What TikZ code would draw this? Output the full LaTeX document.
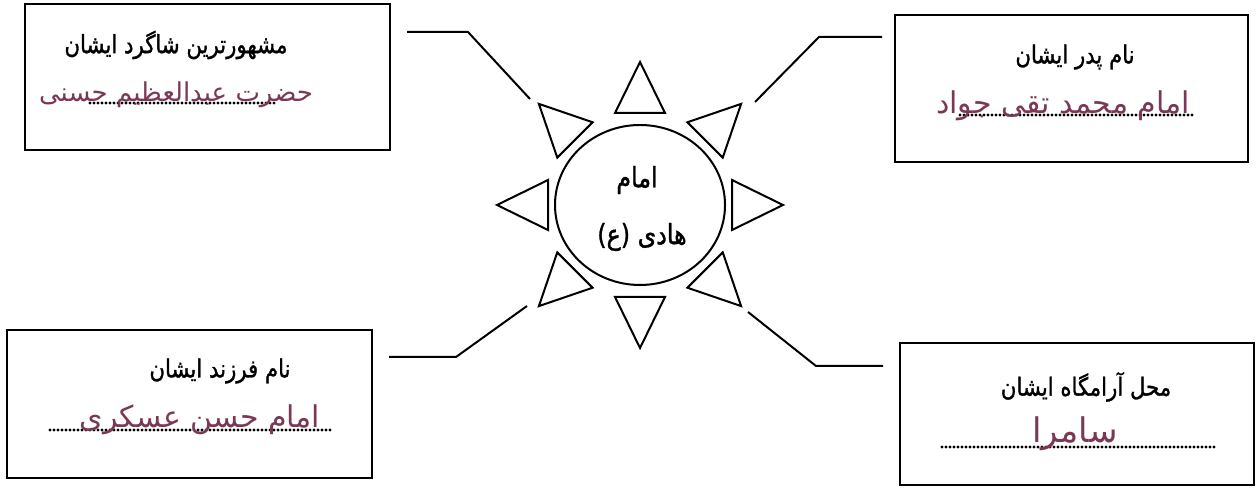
\documentclass[tikz,border=0pt]{standalone}
\usepackage{fontspec}
\usetikzlibrary{shapes.geometric}
\newfontfamily\farsi[Script=Arabic]{DejaVu Sans}
\newfontfamily\farsititle[Script=Arabic, FakeStretch=0.85, FakeBold=1.2]{DejaVu Sans}
\TeXXeTstate=1
\newcommand{\fa}[1]{{\farsi\beginR #1\endR}}
\newcommand{\fatitle}[1]{{\farsititle\beginR #1\endR}}
\definecolor{ink}{RGB}{122,56,86}
\begin{document}
\begin{tikzpicture}[x=0.5pt, y=-0.5pt,
    box/.style={draw, line width=1.2pt, inner sep=0pt},
    link/.style={line width=1pt},
    tri/.style={line width=1pt, line join=miter},
    dots/.style={line width=1.6pt, line cap=round, dash pattern=on 0pt off 2pt},
    title/.style={font=\fontsize{12.5}{14}\selectfont},
    hand/.style={text=ink, font=\fontsize{15}{18}\selectfont}]
    \useasboundingbox (0,0) rectangle (1256,490);
    \node[draw, ellipse, line width=1pt, minimum width=85pt, minimum height=80pt, inner sep=0pt] (imam) at (640,205) {};
    \node[title, font=\fontsize{14}{16}\selectfont] (imam-top) at (637,180) {\fatitle{امام}};
    \node[title, font=\fontsize{14}{16}\selectfont] (imam-bottom) at (642,237) {\fatitle{هادی (ع)}};
    \foreach \a in {0,45,...,315}
        \draw[tri, shift={(imam.center)}, rotate=\a] (92,-25) -- (143,0) -- (92,25) -- cycle;
    \node[box, minimum width=182.5pt, minimum height=73pt] (shagird) at (207.5,77) {};
    \node[box, minimum width=176.5pt, minimum height=73.5pt] (pedar) at (1071.5,88.5) {};
    \node[box, minimum width=182.5pt, minimum height=74pt] (farzand) at (189.5,404) {};
    \node[box, minimum width=177pt, minimum height=71pt] (aramgah) at (1077,414) {};
    \node[title] (shagird-title) at (176,45) {\fatitle{مشهورترین شاگرد ایشان}};
    \node[title] (pedar-title) at (1075,57) {\fatitle{نام پدر ایشان}};
    \node[title] (farzand-title) at (220,371) {\fatitle{نام فرزند ایشان}};
    \node[title] (aramgah-title) at (1086,387) {\fatitle{محل آرامگاه ایشان}};
    \draw[dots] (90,103) -- (275,103);
    \draw[dots] (960,115) -- (1193,115);
    \draw[dots] (50,430) -- (330,430);
    \draw[dots] (942,447) -- (1217,447);
    \node[hand, font=\fontsize{13}{15}\selectfont] (shagird-name) at (176,95) {\fa{حضرت عبدالعظیم حسنی}};
    \node[hand] (pedar-name) at (1063,106) {\fa{امام محمد تقی جواد}};
    \node[hand] (farzand-name) at (200,420) {\fa{امام حسن عسکری}};
    \node[hand, font=\fontsize{17}{20}\selectfont] (aramgah-name) at (1075,434) {\fa{سامرا}};
    \coordinate (shagird-a) at (407,32);
    \coordinate (shagird-b) at (530,99);
    \coordinate (pedar-a) at (882,37);
    \coordinate (pedar-b) at (755,102);
    \coordinate (farzand-a) at (389,357);
    \coordinate (farzand-b) at (527,306);
    \coordinate (aramgah-a) at (883,366);
    \coordinate (aramgah-b) at (748,312);
    \draw[link] (shagird-a) -- ++(61,0) -- (shagird-b);
    \draw[link] (pedar-a) -- ++(-63,0) -- (pedar-b);
    \draw[link] (farzand-a) -- ++(67,0) -- (farzand-b);
    \draw[link] (aramgah-a) -- ++(-67,0) -- (aramgah-b);
\end{tikzpicture}
\end{document}
